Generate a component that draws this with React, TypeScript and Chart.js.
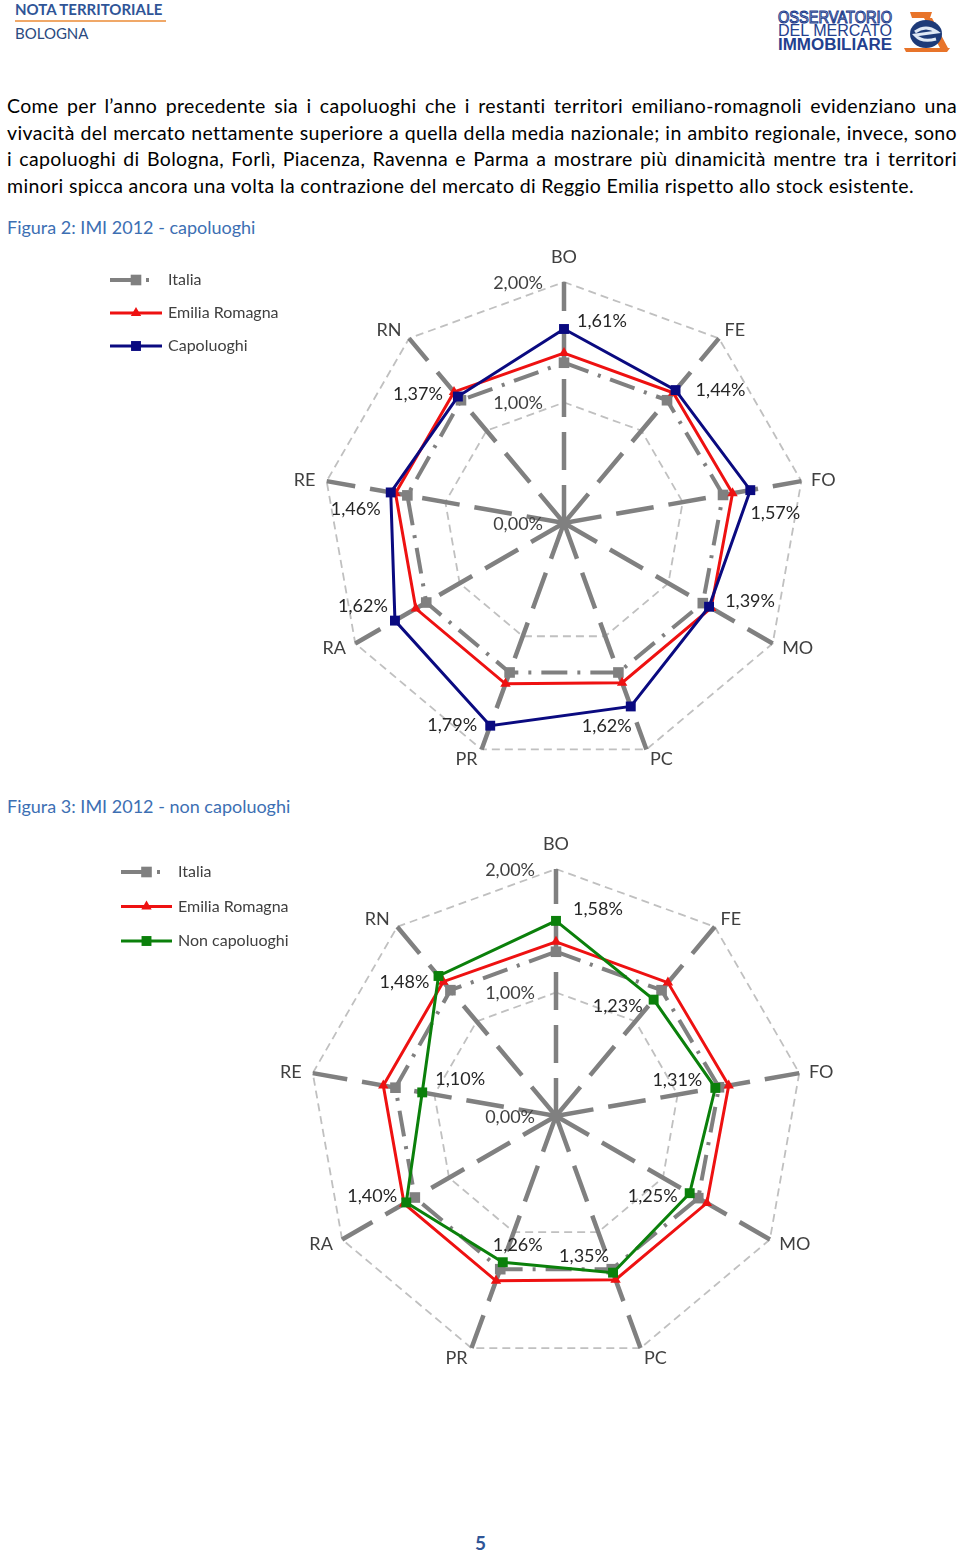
import React, { useEffect, useRef } from "react";
import { Chart, registerables } from "chart.js";
Chart.register(...registerables);

// ---------- data ----------
const categories = ["BO", "FE", "FO", "MO", "PC", "PR", "RA", "RE", "RN"];
const scaleTicks = [0, 1, 2];
const italiaValues = [1.33, 1.33, 1.34, 1.33, 1.32, 1.32, 1.32, 1.32, 1.33];
const emiliaRomagnaValues = [1.41, 1.41, 1.42, 1.41, 1.41, 1.42, 1.42, 1.42, 1.42];
const capoluoghiValues = [1.61, 1.44, 1.57, 1.39, 1.62, 1.79, 1.62, 1.46, 1.37];
const nonCapoluoghiValues = [1.58, 1.23, 1.31, 1.25, 1.35, 1.26, 1.4, 1.1, 1.48];

// ---------- styling / placement config ----------
const catLabelOffsets = [
  [0, -25], [16, -8], [22, -1], [25, 5], [15, 10], [-15, 10], [-21, 5], [-22, -1], [-20, -8],
];
const labelOffsets1 = [
  [38, -8], [45, 0], [25, 23], [41, -6], [-24, 20], [-38, 0], [-32, -14], [-35, 17], [-40, -2],
];
const labelOffsets2 = [
  [42, -12], [-36, 7], [-38, -8], [-37, 3], [-29, -16], [15, -17], [-34, -6], [38, -13], [-34, 6],
];

const fmt = (v: number) => v.toFixed(2).replace(".", ",") + "%";
const FONT = "Lato, 'Open Sans', sans-serif";

type Series = {
  label: string;
  data: number[];
  color: string;
  width: number;
  dash: number[];
  pointStyle: string;
  radius: number;
  order: number;
};

function drawMarker(ctx: CanvasRenderingContext2D, style: string, x: number, y: number, r: number, color: string) {
  ctx.save();
  ctx.setLineDash([]);
  ctx.fillStyle = color;
  if (style === "rect") {
    const s = Math.SQRT1_2 * r;
    ctx.fillRect(x - s, y - s, 2 * s, 2 * s);
  } else {
    ctx.beginPath();
    for (let k = 0; k < 3; k++) {
      const a = -Math.PI / 2 + (k * 2 * Math.PI) / 3;
      const px = x + Math.cos(a) * r;
      const py = y + Math.sin(a) * r;
      if (k === 0) ctx.moveTo(px, py);
      else ctx.lineTo(px, py);
    }
    ctx.closePath();
    ctx.fill();
  }
  ctx.restore();
}

type LegendCfg = { x0: number; x1: number; tx: number; y0: number; dy: number };

function RadarChart(props: {
  left: number;
  top: number;
  width: number;
  height: number;
  padding: { left: number; right: number; top: number; bottom: number };
  series: Series[];
  labelled: number;
  offsets: number[][];
  legend: LegendCfg;
}) {
  const ref = useRef<HTMLCanvasElement>(null);
  useEffect(() => {
    const canvas = ref.current!;
    const { series, labelled, offsets, legend } = props;
    const overlay = {
      id: "overlay",
      afterDraw(chart: any) {
        const ctx: CanvasRenderingContext2D = chart.ctx;
        const scale = chart.scales.r;
        ctx.save();
        ctx.setLineDash([]);
        // tick labels
        ctx.font = `18px ${FONT}`;
        ctx.fillStyle = "#404040";
        ctx.textAlign = "right";
        ctx.textBaseline = "middle";
        scaleTicks.forEach((t) => {
          const p = scale.getPointPositionForValue(0, t);
          ctx.fillText(fmt(t), p.x - 21, p.y + 1);
        });
        // category labels
        ctx.textAlign = "center";
        categories.forEach((c, i) => {
          const p = scale.getPointPositionForValue(i, scale.max);
          ctx.fillText(c, p.x + catLabelOffsets[i][0], p.y + catLabelOffsets[i][1]);
        });
        // data labels
        const meta = chart.getDatasetMeta(labelled);
        ctx.fillStyle = "#262626";
        series[labelled].data.forEach((v, i) => {
          const pt = meta.data[i];
          ctx.fillText(fmt(v), pt.x + offsets[i][0], pt.y + offsets[i][1]);
        });
        // legend
        series.forEach((s, k) => {
          const y = legend.y0 + k * legend.dy;
          const xEnd = s.dash.length ? legend.x1 - 3 : legend.x1;
          ctx.save();
          ctx.strokeStyle = s.color;
          ctx.lineWidth = s.width;
          ctx.setLineDash(s.dash);
          ctx.beginPath();
          ctx.moveTo(legend.x0, y);
          ctx.lineTo(xEnd, y);
          ctx.stroke();
          ctx.restore();
          drawMarker(ctx, s.pointStyle, (legend.x0 + legend.x1) / 2, y, s.radius, s.color);
          ctx.font = `16px ${FONT}`;
          ctx.fillStyle = "#404040";
          ctx.textAlign = "left";
          ctx.textBaseline = "middle";
          ctx.fillText(s.label, legend.tx, y);
        });
        ctx.restore();
      },
    };
    const chart = new Chart(canvas, {
      type: "radar",
      data: {
        labels: categories,
        datasets: series.map((s) => ({
          label: s.label,
          data: s.data,
          borderColor: s.color,
          backgroundColor: s.color,
          borderWidth: s.width,
          borderDash: s.dash,
          pointStyle: s.pointStyle as any,
          pointRadius: s.radius,
          pointBorderWidth: 0,
          pointBackgroundColor: s.color,
          fill: false,
          tension: 0,
          order: s.order,
        })),
      },
      options: {
        responsive: false,
        animation: false,
        devicePixelRatio: 1,
        events: [],
        layout: { padding: props.padding },
        plugins: { legend: { display: false }, tooltip: { enabled: false } },
        scales: {
          r: {
            min: 0,
            max: 2,
            ticks: { stepSize: 1, display: false },
            pointLabels: { display: false },
            grid: { color: "#c0c0c0", lineWidth: 1.8, borderDash: [8, 5] } as any,
            border: { dash: [8, 5] } as any,
            angleLines: { color: "#808080", lineWidth: 4.5, borderDash: [38, 15] },
          },
        },
      } as any,
      plugins: [overlay],
    });
    return () => chart.destroy();
  }, []);
  return (
    <canvas
      ref={ref}
      width={props.width}
      height={props.height}
      style={{ position: "absolute", left: props.left, top: props.top, width: props.width, height: props.height }}
    />
  );
}

const italiaSeries: Series = {
  label: "Italia", data: italiaValues, color: "#808080", width: 4, dash: [26, 10, 3, 10], pointStyle: "rect", radius: 7.5, order: 3,
};
const erSeries: Series = {
  label: "Emilia Romagna", data: emiliaRomagnaValues, color: "#ee1111", width: 3, dash: [], pointStyle: "triangle", radius: 6, order: 2,
};
const capSeries: Series = {
  label: "Capoluoghi", data: capoluoghiValues, color: "#0a0a80", width: 3, dash: [], pointStyle: "rect", radius: 7, order: 1,
};
const nonCapSeries: Series = {
  label: "Non capoluoghi", data: nonCapoluoghiValues, color: "#0b800b", width: 3, dash: [], pointStyle: "rect", radius: 7, order: 1,
};

const paragraphLines = [
  "Come per l’anno precedente sia i capoluoghi che i restanti territori emiliano-romagnoli evidenziano una",
  "vivacità del mercato nettamente superiore a quella della media nazionale; in ambito regionale, invece, sono",
  "i capoluoghi di Bologna, Forlì, Piacenza, Ravenna e Parma a mostrare più dinamicità mentre tra i territori",
  "minori spicca ancora una volta la contrazione del mercato di Reggio Emilia rispetto allo stock esistente.",
];

function Logo() {
  return (
    <svg width={185} height={56} style={{ position: "absolute", left: 772, top: 2 }}>
      <g fontFamily="'Liberation Sans', Arial, sans-serif" fill="#23408e">
        <text x={6} y={21} fontSize={16} textLength={114} lengthAdjust="spacingAndGlyphs" fill="#ffffff" stroke="#23408e" strokeWidth={1.1}>
          OSSERVATORIO
        </text>
        <text x={6} y={34} fontSize={16} textLength={114} lengthAdjust="spacingAndGlyphs">
          DEL MERCATO
        </text>
        <text x={6} y={48} fontSize={16} fontWeight="bold" textLength={114} lengthAdjust="spacingAndGlyphs">
          IMMOBILIARE
        </text>
      </g>
      <polygon points="138,10 160,10 158,16 140,16" fill="#e8742a" />
      <polygon points="132,46 178,46 175,50 134,50" fill="#e8742a" />
      <polygon points="152,16 160,16 176,46 168,46" fill="#e8742a" />
      <ellipse cx={154} cy={32} rx={16} ry={14} fill="#1d3a78" />
      <path d="M143 30 Q154 22 165 30 L143 33 Q150 41 164 37" stroke="#dfe8f5" strokeWidth={3} fill="none" />
    </svg>
  );
}

export default function App() {
  return (
    <div
      style={{
        position: "absolute",
        left: 0,
        top: 0,
        width: 960,
        height: 1556,
        background: "#ffffff",
        overflow: "hidden",
        fontFamily: FONT,
      }}
    >
      {/* header */}
      <div style={{ position: "absolute", left: 15, top: 0, fontSize: 15, fontWeight: 700, color: "#2f5597", lineHeight: "18px", whiteSpace: "nowrap" }}>
        NOTA TERRITORIALE
      </div>
      <div style={{ position: "absolute", left: 15, top: 20, width: 151, height: 2, background: "#f0a868" }} />
      <div style={{ position: "absolute", left: 15, top: 24, fontSize: 15, color: "#2a4a80", lineHeight: "18px", whiteSpace: "nowrap" }}>
        BOLOGNA
      </div>
      <Logo />

      {/* paragraph */}
      <div style={{ position: "absolute", left: 7, top: 93, width: 950, fontSize: 19.5, letterSpacing: "0.35px", lineHeight: "26.5px", color: "#000" }}>
        {paragraphLines.map((l, i) => (
          <div
            key={i}
            style={{
              textAlign: i < paragraphLines.length - 1 ? "justify" : "left",
              textAlignLast: i < paragraphLines.length - 1 ? "justify" : "left",
              whiteSpace: "nowrap",
            } as any}
          >
            {l}
          </div>
        ))}
      </div>

      <div style={{ position: "absolute", left: 7, top: 216, fontSize: 18, color: "#3d6fb3", lineHeight: "22px", whiteSpace: "nowrap" }}>
        Figura 2: IMI 2012 - capoluoghi
      </div>
      <RadarChart
        left={100}
        top={240}
        width={760}
        height={540}
        padding={{ left: 223, right: 55, top: 42, bottom: 16 }}
        series={[italiaSeries, erSeries, capSeries]}
        labelled={2}
        offsets={labelOffsets1}
        legend={{ x0: 10, x1: 62, tx: 68, y0: 40, dy: 33 }}
      />

      <div style={{ position: "absolute", left: 7, top: 795, fontSize: 18, color: "#3d6fb3", lineHeight: "22px", whiteSpace: "nowrap" }}>
        Figura 3: IMI 2012 - non capoluoghi
      </div>
      <RadarChart
        left={100}
        top={830}
        width={760}
        height={550}
        padding={{ left: 209, right: 57, top: 39, bottom: 17 }}
        series={[italiaSeries, erSeries, nonCapSeries]}
        labelled={2}
        offsets={labelOffsets2}
        legend={{ x0: 21, x1: 72, tx: 78, y0: 42, dy: 34.5 }}
      />

      <div style={{ position: "absolute", left: 475, top: 1531, fontSize: 19, fontWeight: 700, color: "#2f5597", lineHeight: "24px" }}>5</div>
    </div>
  );
}
